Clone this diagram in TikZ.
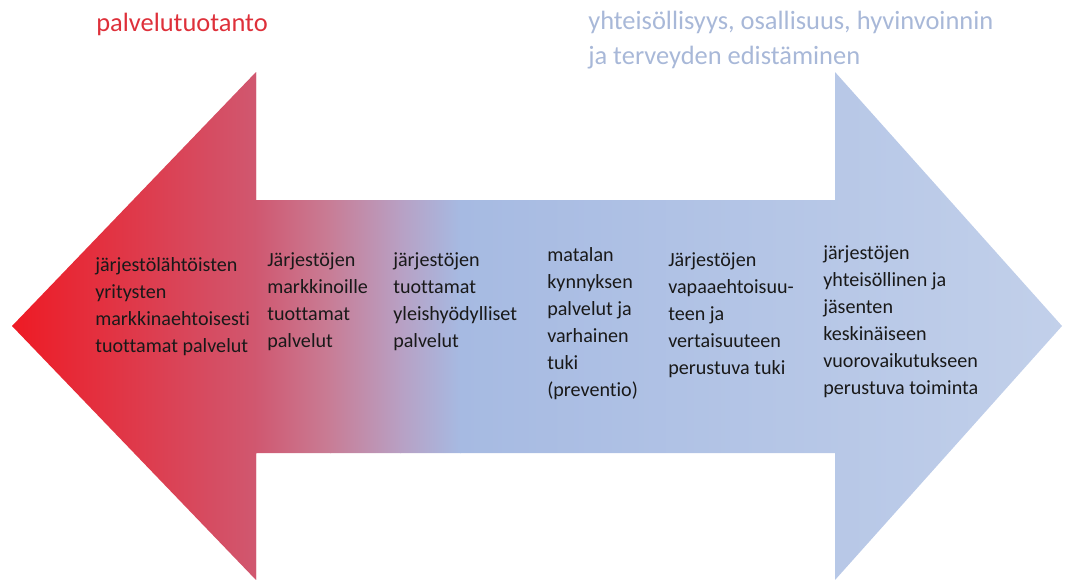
\documentclass[tikz,border=0pt]{standalone}
\usepackage{fontspec}
\setmainfont{Carlito}[Ligatures=NoCommon]

\definecolor{tipred}{RGB}{238,26,36}
\definecolor{headred}{RGB}{208,88,112}
\definecolor{rosegrey}{RGB}{200,125,150}
\definecolor{lilac}{RGB}{184,160,196}
\definecolor{shaftblue}{RGB}{166,186,226}
\definecolor{paleblue}{RGB}{194,208,234}
\definecolor{titlered}{RGB}{222,48,58}
\definecolor{titleblue}{RGB}{168,184,216}

\begin{document}
\begin{tikzpicture}[
  x=0.025cm, y=-0.025cm,
  every node/.style={inner sep=0pt},
  body/.style={anchor=north west, align=left, text=black!90,
    font=\fontsize{14.3}{19.2}\selectfont},
  heading/.style={anchor=north west, align=left,
    font=\fontsize{18.8}{24.8}\selectfont}
]
\useasboundingbox (0,0) rectangle (1072,579);

% ============================================================
% Double arrow with red-to-blue shading
% ============================================================
\begin{scope}
  \clip (12,326) -- (256,72) -- (256,200) -- (835,200) -- (835,72)
    -- (1062,326) -- (835,580) -- (835,453) -- (256,453) -- (256,580)
    -- cycle;
  \shade[left color=tipred, right color=headred] (10,60) rectangle (257,590);
  \shade[left color=headred, right color=rosegrey] (256,60) rectangle (331,590);
  \shade[left color=rosegrey, right color=lilac] (330,60) rectangle (401,590);
  \shade[left color=lilac, right color=shaftblue] (400,60) rectangle (461,590);
  \shade[left color=shaftblue, right color=paleblue] (460,60) rectangle (1064,590);
\end{scope}

% ============================================================
% Headings
% ============================================================
\node[heading, text=titlered] (prod) at (96,12.5) {palvelutuotanto};
\node[heading, text=titleblue] (comm) at (588,10.5)
  {yhteisöllisyys, osallisuus, hyvinvoinnin\\ja terveyden edistäminen};

% ============================================================
% Texts along the arrow (left to right)
% ============================================================
\node[body] (firms) at (95,257)
  {järjestölähtöisten\\yritysten\\markkinaehtoisesti\\tuottamat palvelut};
\node[body] (market) at (267,252)
  {Järjestöjen\\markkinoille\\tuottamat\\palvelut};
\node[body] (public) at (393,252)
  {järjestöjen\\tuottamat\\yleishyödylliset\\palvelut};
\node[body] (lowthr) at (547,247)
  {matalan\\kynnyksen\\palvelut ja\\varhainen\\tuki\\(preventio)};
\node[body] (volunt) at (668,252)
  {Järjestöjen\\vapaaehtoisuu-\\teen ja\\vertaisuuteen\\perustuva tuki};
\node[body] (member) at (823,245)
  {järjestöjen\\yhteisöllinen ja\\jäsenten\\keskinäiseen\\vuorovaikutukseen\\perustuva toiminta};

\end{tikzpicture}
\end{document}
